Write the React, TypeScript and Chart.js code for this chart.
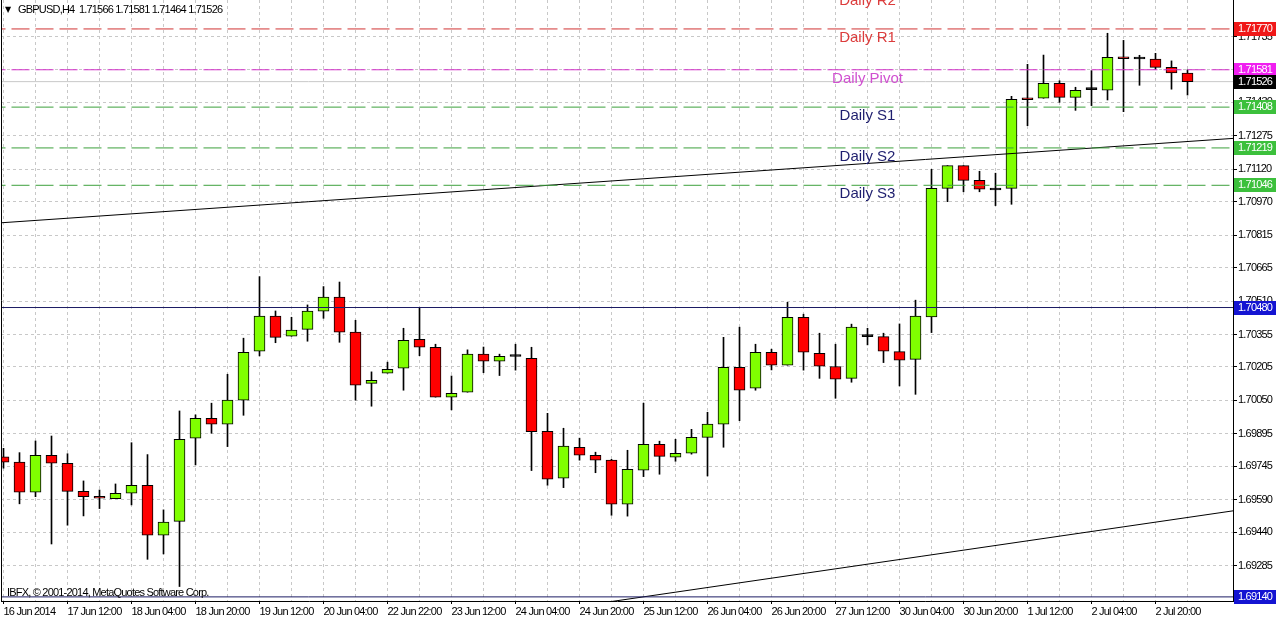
import React, { useEffect, useRef } from 'react';
import { Chart, registerables } from 'chart.js';

Chart.register(...registerables);

// ---- Data (GBPUSD, H4) ----
const OPEN = [
  1.69789, 1.69764, 1.69625, 1.69796, 1.69759, 1.69629, 1.69606, 1.69595, 1.69620, 1.69657,
  1.69426, 1.69490, 1.69875, 1.69967, 1.69940, 1.70051, 1.70278, 1.70440, 1.70347, 1.70379,
  1.70463, 1.70528, 1.70366, 1.70129, 1.70176, 1.70199, 1.70333, 1.70296, 1.70065, 1.70088,
  1.70264, 1.70231, 1.70253, 1.70245, 1.69907, 1.69690, 1.69833, 1.69796, 1.69773, 1.69569,
  1.69727, 1.69847, 1.69787, 1.69805, 1.69879, 1.69940, 1.70203, 1.70106, 1.70273, 1.70213,
  1.70435, 1.70268, 1.70207, 1.70152, 1.70345, 1.70345, 1.70276, 1.70240, 1.70436, 1.71032,
  1.71137, 1.71069, 1.71024, 1.71032, 1.71446, 1.71449, 1.71518, 1.71453, 1.71489, 1.71486,
  1.71636, 1.71631, 1.71631, 1.71592, 1.71566,
];
const HIGH = [
  1.69828, 1.69808, 1.69862, 1.69885, 1.69803, 1.69677, 1.69635, 1.69663, 1.69854, 1.69799,
  1.69543, 1.70001, 1.69983, 1.70037, 1.70171, 1.70338, 1.70623, 1.70464, 1.70435, 1.70492,
  1.70577, 1.70598, 1.70421, 1.70182, 1.70227, 1.70384, 1.70481, 1.70310, 1.70163, 1.70284,
  1.70297, 1.70264, 1.70310, 1.70296, 1.69990, 1.69921, 1.69875, 1.69810, 1.69777, 1.69819,
  1.70037, 1.69861, 1.69870, 1.69916, 1.69995, 1.70342, 1.70389, 1.70310, 1.70287, 1.70504,
  1.70449, 1.70361, 1.70310, 1.70403, 1.70384, 1.70361, 1.70404, 1.70514, 1.71120, 1.71137,
  1.71137, 1.71111, 1.71102, 1.71458, 1.71606, 1.71649, 1.71530, 1.71500, 1.71577, 1.71750,
  1.71717, 1.71648, 1.71657, 1.71622, 1.71581,
];
const LOW = [
  1.69736, 1.69571, 1.69604, 1.69385, 1.69472, 1.69515, 1.69549, 1.69595, 1.69566, 1.69314,
  1.69339, 1.69188, 1.69751, 1.69898, 1.69836, 1.69981, 1.70256, 1.70317, 1.70347, 1.70324,
  1.70430, 1.70319, 1.70051, 1.70023, 1.70176, 1.70097, 1.70257, 1.70065, 1.70006, 1.70088,
  1.70178, 1.70165, 1.70190, 1.69725, 1.69657, 1.69646, 1.69773, 1.69715, 1.69518, 1.69514,
  1.69697, 1.69708, 1.69768, 1.69801, 1.69700, 1.69833, 1.69956, 1.70097, 1.70191, 1.70213,
  1.70190, 1.70152, 1.70060, 1.70134, 1.70307, 1.70225, 1.70117, 1.70078, 1.70364, 1.70970,
  1.71016, 1.71016, 1.70952, 1.70958, 1.71322, 1.71449, 1.71430, 1.71393, 1.71415, 1.71441,
  1.71387, 1.71509, 1.71583, 1.71491, 1.71464,
];
const CLOSE = [
  1.69764, 1.69625, 1.69796, 1.69759, 1.69629, 1.69604, 1.69597, 1.69620, 1.69657, 1.69426,
  1.69486, 1.69870, 1.69967, 1.69940, 1.70051, 1.70273, 1.70440, 1.70342, 1.70375, 1.70463,
  1.70528, 1.70366, 1.70120, 1.70143, 1.70194, 1.70328, 1.70296, 1.70065, 1.70083, 1.70264,
  1.70231, 1.70254, 1.70253, 1.69905, 1.69685, 1.69838, 1.69796, 1.69773, 1.69569, 1.69731,
  1.69847, 1.69791, 1.69805, 1.69879, 1.69940, 1.70203, 1.70097, 1.70273, 1.70213, 1.70435,
  1.70273, 1.70208, 1.70148, 1.70389, 1.70345, 1.70278, 1.70236, 1.70440, 1.71032, 1.71137,
  1.71069, 1.71028, 1.71024, 1.71444, 1.71442, 1.71518, 1.71453, 1.71486, 1.71489, 1.71639,
  1.71632, 1.71631, 1.71592, 1.71566, 1.71526,
];

const X_LABELS = [
  '16 Jun 2014', '17 Jun 12:00', '18 Jun 04:00', '18 Jun 20:00', '19 Jun 12:00',
  '20 Jun 04:00', '22 Jun 22:00', '23 Jun 12:00', '24 Jun 04:00', '24 Jun 20:00',
  '25 Jun 12:00', '26 Jun 04:00', '26 Jun 20:00', '27 Jun 12:00', '30 Jun 04:00',
  '30 Jun 20:00', '1 Jul 12:00', '2 Jul 04:00', '2 Jul 20:00',
];
const Y_TICKS = [
  1.71735, 1.7158, 1.7143, 1.71275, 1.7112, 1.7097, 1.70815, 1.70665, 1.7051,
  1.70355, 1.70205, 1.7005, 1.69895, 1.69745, 1.6959, 1.6944, 1.69285,
];

// Pivot levels and drawn objects
const R2 = 1.71943;
const R1 = 1.7177;
const PIVOT = 1.71581;
const S1 = 1.71408;
const S2 = 1.71219;
const S3 = 1.71046;
const RES_LINE = 1.7048;
const SUP_LINE = 1.6914;
const BID = 1.71526;
const TREND_UPPER = [{ x: -1, y: 1.70868 }, { x: 78, y: 1.71269 }];
const TREND_LOWER = [{ x: 36, y: 1.69097 }, { x: 78, y: 1.69551 }];
const LEVEL_LABEL_X = 54;

const TITLE = 'GBPUSD,H4  1.71566 1.71581 1.71464 1.71526';
const COPYRIGHT = 'IBFX, \u00A9 2001-2014, MetaQuotes Software Corp.';

const Y_MIN = 1.69121;
const Y_MAX = 1.71904;
const X_MIN = -0.15625;
const X_MAX = 76.84375;

const FONT = '"Liberation Sans", Arial, sans-serif';
const TIGHT = '-0.8px';

const hline = (v: number) => [{ x: -1, y: v }, { x: 78, y: v }];

export default function App() {
  const ref = useRef<HTMLCanvasElement | null>(null);

  useEffect(() => {
    const canvas = ref.current;
    if (!canvas) return;

    const bodies = OPEN.map((o, i) => ({ x: i, y: [Math.min(o, CLOSE[i]), Math.max(o, CLOSE[i])] }));
    const wicks = OPEN.map((_, i) => ({ x: i, y: [LOW[i], HIGH[i]] }));
    const bodyColors = OPEN.map((o, i) => (CLOSE[i] > o ? '#80ff00' : CLOSE[i] < o ? '#ff0000' : '#000000'));

    const levelLabels = [
      { text: 'Daily R2', value: R2, color: '#dc3c3c' },
      { text: 'Daily R1', value: R1, color: '#dc3c3c' },
      { text: 'Daily Pivot', value: PIVOT, color: '#d050d0' },
      { text: 'Daily S1', value: S1, color: '#1e1e6e' },
      { text: 'Daily S2', value: S2, color: '#1e1e6e' },
      { text: 'Daily S3', value: S3, color: '#1e1e6e' },
    ];
    const boxes = [
      { value: R1, bg: '#f01818' },
      { value: PIVOT, bg: '#f01ef0' },
      { value: BID, bg: '#000000' },
      { value: S1, bg: '#3cc03c' },
      { value: S2, bg: '#3cc03c' },
      { value: S3, bg: '#3cc03c' },
      { value: RES_LINE, bg: '#1414d2' },
      { value: SUP_LINE, bg: '#1414d2' },
    ];

    const overlay = {
      id: 'overlay',
      beforeDraw(chart: any) {
        (chart.ctx as any).letterSpacing = TIGHT;
      },
      afterDraw(chart: any) {
        const { ctx, chartArea, scales } = chart;
        const x = scales.x;
        const y = scales.y;
        ctx.save();
        ctx.strokeStyle = '#000';
        ctx.lineWidth = 1;
        ctx.beginPath();
        ctx.moveTo(chartArea.left + 0.5, chartArea.top);
        ctx.lineTo(chartArea.left + 0.5, chartArea.bottom);
        ctx.stroke();

        ctx.letterSpacing = '0px';
        ctx.font = '15px "Liberation Sans", Arial, sans-serif';
        ctx.textAlign = 'center';
        ctx.textBaseline = 'middle';
        levelLabels.forEach((l) => {
          ctx.fillStyle = l.color;
          ctx.fillText(l.text, x.getPixelForValue(LEVEL_LABEL_X), y.getPixelForValue(l.value) + 9);
        });

        ctx.letterSpacing = TIGHT;
        ctx.font = '11px ' + FONT;
        ctx.textAlign = 'left';
        boxes.forEach((b) => {
          const py = Math.round(y.getPixelForValue(b.value));
          ctx.fillStyle = b.bg;
          ctx.fillRect(chartArea.right + 1, py - 7, 43, 14);
          ctx.fillStyle = '#ffffff';
          ctx.fillText(b.value.toFixed(5), chartArea.right + 5, py);
        });

        ctx.fillStyle = '#000';
        ctx.letterSpacing = '0px';
        ctx.font = '8px "DejaVu Sans", sans-serif';
        ctx.fillText('\u25BC', 5, 10);
        ctx.letterSpacing = TIGHT;
        ctx.font = '11px ' + FONT;
        ctx.fillText(TITLE, 18, 10);
        ctx.fillText(COPYRIGHT, 7, 593);
        ctx.restore();
      },
    };

    const lineDs = (label: string, data: any, color: string, dash: number[], order: number) => ({
      type: 'line' as const,
      label,
      data,
      borderColor: color,
      borderWidth: 1,
      borderDash: dash,
      pointRadius: 0,
      fill: false,
      tension: 0,
      order,
    });

    const chart = new Chart(canvas, {
      type: 'bar',
      data: {
        datasets: [
          lineDs('R2', hline(R2), '#d03232', [18, 6], 0),
          lineDs('R1', hline(R1), '#d03232', [18, 6], 0),
          lineDs('Pivot', hline(PIVOT), '#d232c8', [18, 6], 0),
          lineDs('S1', hline(S1), '#3ca03c', [18, 6], 0),
          lineDs('S2', hline(S2), '#3ca03c', [18, 6], 0),
          lineDs('S3', hline(S3), '#3ca03c', [18, 6], 0),
          lineDs('Resistance', hline(RES_LINE), '#1c1c64', [], 0),
          lineDs('Support', hline(SUP_LINE), '#1c1c64', [], 0),
          lineDs('Trend upper', TREND_UPPER, '#000000', [], 0),
          lineDs('Trend lower', TREND_LOWER, '#000000', [], 0),
          {
            type: 'bar' as const,
            label: 'Body',
            data: bodies as any,
            backgroundColor: bodyColors,
            borderColor: '#000000',
            borderWidth: 1,
            borderSkipped: false,
            barThickness: 11,
            maxBarThickness: 11,
            minBarLength: 2,
            grouped: false,
            order: 1,
          },
          {
            type: 'bar' as const,
            label: 'Wick',
            data: wicks as any,
            backgroundColor: '#000000',
            borderWidth: 0,
            barThickness: 1,
            maxBarThickness: 1,
            grouped: false,
            order: 2,
          },
          lineDs('Bid', hline(BID), '#c8c8c8', [], 3),
        ] as any,
      },
      options: {
        animation: false,
        responsive: true,
        maintainAspectRatio: false,
        events: [],
        layout: { padding: { left: 1, top: 0, right: 0, bottom: 0 } },
        plugins: { legend: { display: false }, tooltip: { enabled: false }, title: { display: false } },
        scales: {
          x: {
            type: 'linear',
            offset: false,
            min: X_MIN,
            max: X_MAX,
            afterBuildTicks: (scale: any) => {
              const t = [];
              for (let i = 0; i <= 76; i += 2) t.push({ value: i });
              scale.ticks = t;
            },
            afterFit: (scale: any) => {
              scale.height = 18;
              scale.paddingLeft = 0;
              scale.paddingRight = 0;
            },
            ticks: {
              autoSkip: false,
              maxRotation: 0,
              minRotation: 0,
              align: 'start',
              padding: 1,
              color: '#000',
              font: { family: FONT, size: 11 },
              callback: (v: any) => (v % 4 === 0 ? X_LABELS[v / 4] : ''),
            },
            grid: {
              offset: false,
              color: '#c8c8c8',
              tickLength: 3,
              tickColor: (c: any) => (c.tick && c.tick.value % 4 === 0 ? '#000' : 'rgba(0,0,0,0)'),
            },
            border: { color: '#000', dash: [3, 3] },
          },
          y: {
            type: 'linear',
            position: 'right',
            min: Y_MIN,
            max: Y_MAX,
            afterBuildTicks: (scale: any) => {
              scale.ticks = Y_TICKS.map((v) => ({ value: v }));
            },
            afterFit: (scale: any) => {
              scale.width = 43;
              scale.paddingTop = 0;
              scale.paddingBottom = 0;
            },
            ticks: {
              autoSkip: false,
              padding: 1,
              color: '#000',
              font: { family: FONT, size: 11 },
              callback: (v: any) => Number(v).toFixed(5),
            },
            grid: { color: '#c8c8c8', tickLength: 4, tickColor: '#000' },
            border: { color: '#000', dash: [3, 3] },
          },
        },
      } as any,
      plugins: [overlay],
    });

    return () => chart.destroy();
  }, []);

  return (
    <div style={{ position: 'fixed', left: 0, top: 0, width: 1276, height: 619, background: '#fff' }}>
      <canvas ref={ref} />
    </div>
  );
}
